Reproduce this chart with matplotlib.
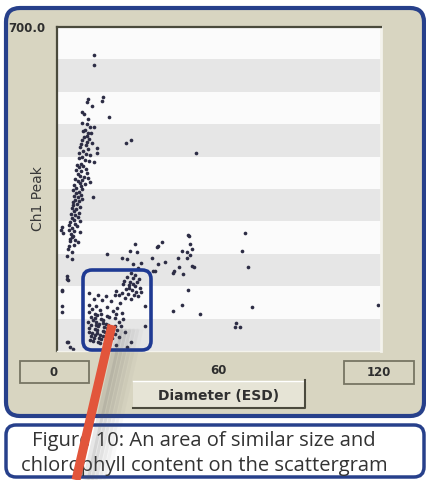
import matplotlib.pyplot as plt
from matplotlib.patches import FancyBboxPatch, Rectangle

W, H = 426, 481

# scattergram values (diameter ESD, Ch1 peak)
band_x = [13.8, 13.8, 11.6, 11.0, 12.9, 16.9, 16.6, 19.4, 9.1, 10.1, 11.6, 9.1, 11.0, 12.2, 13.8, 9.7, 11.6,
          10.4, 12.6, 11.2, 10.0, 12.0, 9.4, 11.0, 13.0, 14.7, 14.7, 25.6, 27.4,
          9.0, 10.6, 8.6, 11.4, 9.8, 8.2, 10.8, 12.4, 9.2, 8.0, 10.2, 11.8, 13.8, 8.8, 7.4, 9.8,
          8.0, 10.6, 7.2, 9.0, 11.2, 7.8, 8.6, 10.0, 11.6, 12.2, 6.8, 9.2, 7.6, 8.4, 10.4,
          6.4, 8.8, 7.2, 9.4, 6.0, 8.0, 7.0, 8.8, 6.2, 7.8, 9.2, 13.4, 6.6, 8.2, 5.8,
          7.4, 6.0, 8.6, 5.4, 7.0, 6.4, 8.0, 5.2, 6.8, 7.8, 5.6, 6.2, 8.4,
          5.0, 6.8, 4.6, 7.4, 1.7, 5.6, 4.4, 6.4, 8.6, 1.4, 2.3, 5.2, 6.0, 5.4, 4.8, 6.7, 7.6,
          4.8, 4.2, 5.4, 3.6, 5.4, 4.6, 6.2,
          3.6, 4.0, 3.6, 1.7, 1.7, 1.7, 1.7, 4.2, 6.0, 3.6, 4.8]
band_y = [640, 618, 544, 538, 530, 549, 541, 506, 517, 512, 501, 492, 490, 484, 483, 475, 472,
          478, 470, 465, 462, 458, 455, 452, 450, 438, 428, 449, 456,
          447, 444, 440, 436, 432, 428, 425, 423, 420, 416, 413, 410, 408, 405, 402, 400,
          397, 394, 391, 388, 385, 382, 379, 377, 374, 365, 372, 370, 367, 363, 361,
          358, 356, 353, 350, 347, 344, 341, 338, 335, 332, 329, 333, 326, 323, 321,
          318, 315, 312, 309, 306, 302, 299, 296, 293, 290, 287, 284, 281,
          278, 275, 272, 270, 268, 266, 262, 259, 257, 262, 256, 252, 249, 246, 242, 240, 236,
          238, 220, 213, 206, 199, 226, 230,
          163, 153, 156, 132, 130, 98, 84, 19, 4, 19, 9]

mid_x = [18.4, 24.0, 25.8, 28.9, 27.0, 29.5, 28.3, 35.1, 36.3, 36.9, 38.8, 37.5, 37.5, 40.0, 35.4, 31.0, 30.0,
         49.0, 49.3, 49.9, 46.2, 48.0, 49.3, 44.9, 48.0, 68.4, 70.9, 43.1, 43.3, 46.8, 45.3, 49.9, 50.7,
         48.6, 46.2, 43.1, 53.0, 72.1, 66.3, 65.9, 67.8, 51.4, 48.6, 69.6, 118.9, 32.6, 32.6]
mid_y = [210, 202, 199, 231, 217, 213, 188, 202, 173, 224, 235, 227, 188, 192, 173, 190, 180,
         249, 231, 220, 217, 213, 208, 201, 201, 217, 181, 168, 172, 166, 181, 184, 181,
         132, 99, 86, 79, 96, 60, 51, 52, 428, 251, 255, 99, 55, 98]

upper_box_x = [27.5, 29.0, 26.0, 28.2, 30.2, 25.0, 27.0, 29.6, 24.4, 26.6, 28.8, 30.6, 25.6,
               27.8, 29.4, 24.0, 26.2, 28.4, 30.0, 25.2, 27.4, 23.0, 22.0, 31.2, 28.0, 26.8]
upper_box_y = [168, 165, 160, 158, 155, 152, 150, 148, 145, 142, 140, 137, 134,
               132, 128, 126, 124, 121, 118, 115, 112, 120, 130, 128, 145, 137]

lower_box_x = [12.0, 15.2, 18.0, 21.4, 13.6, 16.8, 20.0, 23.4, 11.8, 14.6, 18.6, 22.2, 12.8, 16.0, 20.8, 24.0,
               11.8, 13.9, 15.0, 16.2, 18.5, 19.3, 21.6, 12.6, 14.0, 16.4, 17.1, 13.3, 14.5, 16.9, 18.2, 19.0,
               21.5, 11.6, 12.5, 14.3, 15.3, 17.5, 18.6, 20.6, 22.3, 12.0, 13.9, 14.8, 16.9, 17.6, 19.2,
               21.3, 11.9, 13.0, 14.9, 15.8, 17.1, 19.1, 20.4, 12.7, 13.6, 15.4, 16.3, 18.3, 19.4, 12.2,
               13.2, 15.1, 16.0, 17.9, 22.8, 23.6, 24.4, 21.8, 23.0, 25.2, 26.0, 22.0, 27.5, 14.2, 15.7]
lower_box_y = [125, 122, 118, 120, 112, 110, 108, 104, 100, 98, 96, 92, 90, 88, 86, 82,
               84, 81, 78, 79, 75, 73, 71, 73, 71, 69, 66, 66, 63, 61, 59, 57,
               55, 62, 57, 56, 53, 51, 49, 47, 45, 49, 47, 45, 43, 41, 39,
               37, 42, 39, 38, 35, 33, 31, 29, 32, 29, 28, 25, 23, 21, 24,
               21, 19, 17, 15, 62, 54, 70, 80, 30, 40, 9, 12, 20, 34, 58]

stripe_step = 70
x_ticks = ['0', '60', '120']
y_top_label = '700.0'
caption = ['Figure 10: An area of similar size and',
           'chlorophyll content on the scattergram']

panel_col = '#D8D5C1'
blue = '#27408B'

fig = plt.figure(figsize=(W / 100, H / 100), dpi=100)
fig.patch.set_facecolor('white')

# background / window chrome in pixel coordinates
bg = fig.add_axes([0, 0, 1, 1])
bg.set_xlim(0, W)
bg.set_ylim(H, 0)
bg.axis('off')

bg.add_patch(FancyBboxPatch((6, 9), 418, 408, boxstyle='round,pad=0,rounding_size=14',
                            fc=panel_col, ec=blue, lw=3))
bg.add_patch(FancyBboxPatch((6, 426), 418, 52, boxstyle='round,pad=0,rounding_size=10',
                            fc='white', ec=blue, lw=2.5))

bg.text(8, 32, y_top_label, fontsize=8.5, fontweight='bold', color='#2e2e2e', va='baseline', ha='left')
bg.text(38, 199, 'Ch1 Peak', fontsize=10, rotation=90, color='#383838', ha='center', va='center')

# value boxes under the x axis
bg.add_patch(Rectangle((20, 362), 69, 22, fc=panel_col, ec='#777563', lw=1.3))
bg.add_patch(Rectangle((344, 362), 70, 23, fc=panel_col, ec='#777563', lw=1.3))
bg.text(54, 373, x_ticks[0], fontsize=8.5, fontweight='bold', color='#2e2e2e', ha='center', va='center')
bg.text(218, 371, x_ticks[1], fontsize=8.5, fontweight='bold', color='#2e2e2e', ha='center', va='center')
bg.text(379, 373, x_ticks[2], fontsize=8.5, fontweight='bold', color='#2e2e2e', ha='center', va='center')

# "Diameter (ESD)" button
bg.add_patch(Rectangle((133, 382), 172, 27, fc='#E6E4D6', ec='none'))
bg.plot([133, 305], [382, 382], color='white', lw=1)
bg.plot([305, 305, 133], [381, 409, 409], color='#4b4a3e', lw=1.5)
bg.text(219, 396, 'Diameter (ESD)', fontsize=10, fontweight='bold', color='#303030', ha='center', va='center')

for i, line in enumerate(caption):
    bg.text(204, 441 + i * 25, line, fontsize=14.5, family='Open Sans', color='#333333', ha='center', va='center')

# scattergram
ax = fig.add_axes([57 / W, 1 - 352 / H, 324 / W, 324 / H])
ax.set_xlim(0, 120)
ax.set_ylim(0, 700)
ax.set_facecolor('#FBFBFB')
for lo in range(0, 700, 2 * stripe_step):
    ax.axhspan(lo, lo + stripe_step, color='#E6E6E6', lw=0, zorder=0)
for xs, ys in [(band_x, band_y), (mid_x, mid_y), (upper_box_x, upper_box_y), (lower_box_x, lower_box_y)]:
    ax.scatter(xs, ys, s=7, color='#2d2d45', lw=0, zorder=2)
ax.set_xticks([])
ax.set_yticks([])
ax.spines['top'].set_color('#4a4a3c')
ax.spines['left'].set_color('#4a4a3c')
ax.spines['top'].set_linewidth(1.6)
ax.spines['left'].set_linewidth(1.6)
ax.spines['right'].set_color('#F4F3EC')
ax.spines['bottom'].set_color('#F4F3EC')
ax.spines['right'].set_linewidth(2)
ax.spines['bottom'].set_linewidth(1)

# annotation overlay: highlight box, pointer and its shadow
ov = fig.add_axes([0, 0, 1, 1])
ov.set_xlim(0, W)
ov.set_ylim(H, 0)
ov.axis('off')
ov.patch.set_alpha(0)
for off, a in [(6, 0.14), (10, 0.12), (14, 0.10), (18, 0.07), (22, 0.05), (26, 0.03)]:
    ov.plot([114 + off, 80 + off], [330, 481], color='#555555', lw=5, alpha=a, solid_capstyle='butt')
ov.add_patch(FancyBboxPatch((83, 271), 68, 80, boxstyle='round,pad=0,rounding_size=9',
                            fc='none', ec='#1F3A93', lw=2.6))
ov.plot([112, 76], [326, 481], color='#E2553B', lw=6.5, solid_capstyle='butt')

fig.savefig('out.png', dpi=100)
